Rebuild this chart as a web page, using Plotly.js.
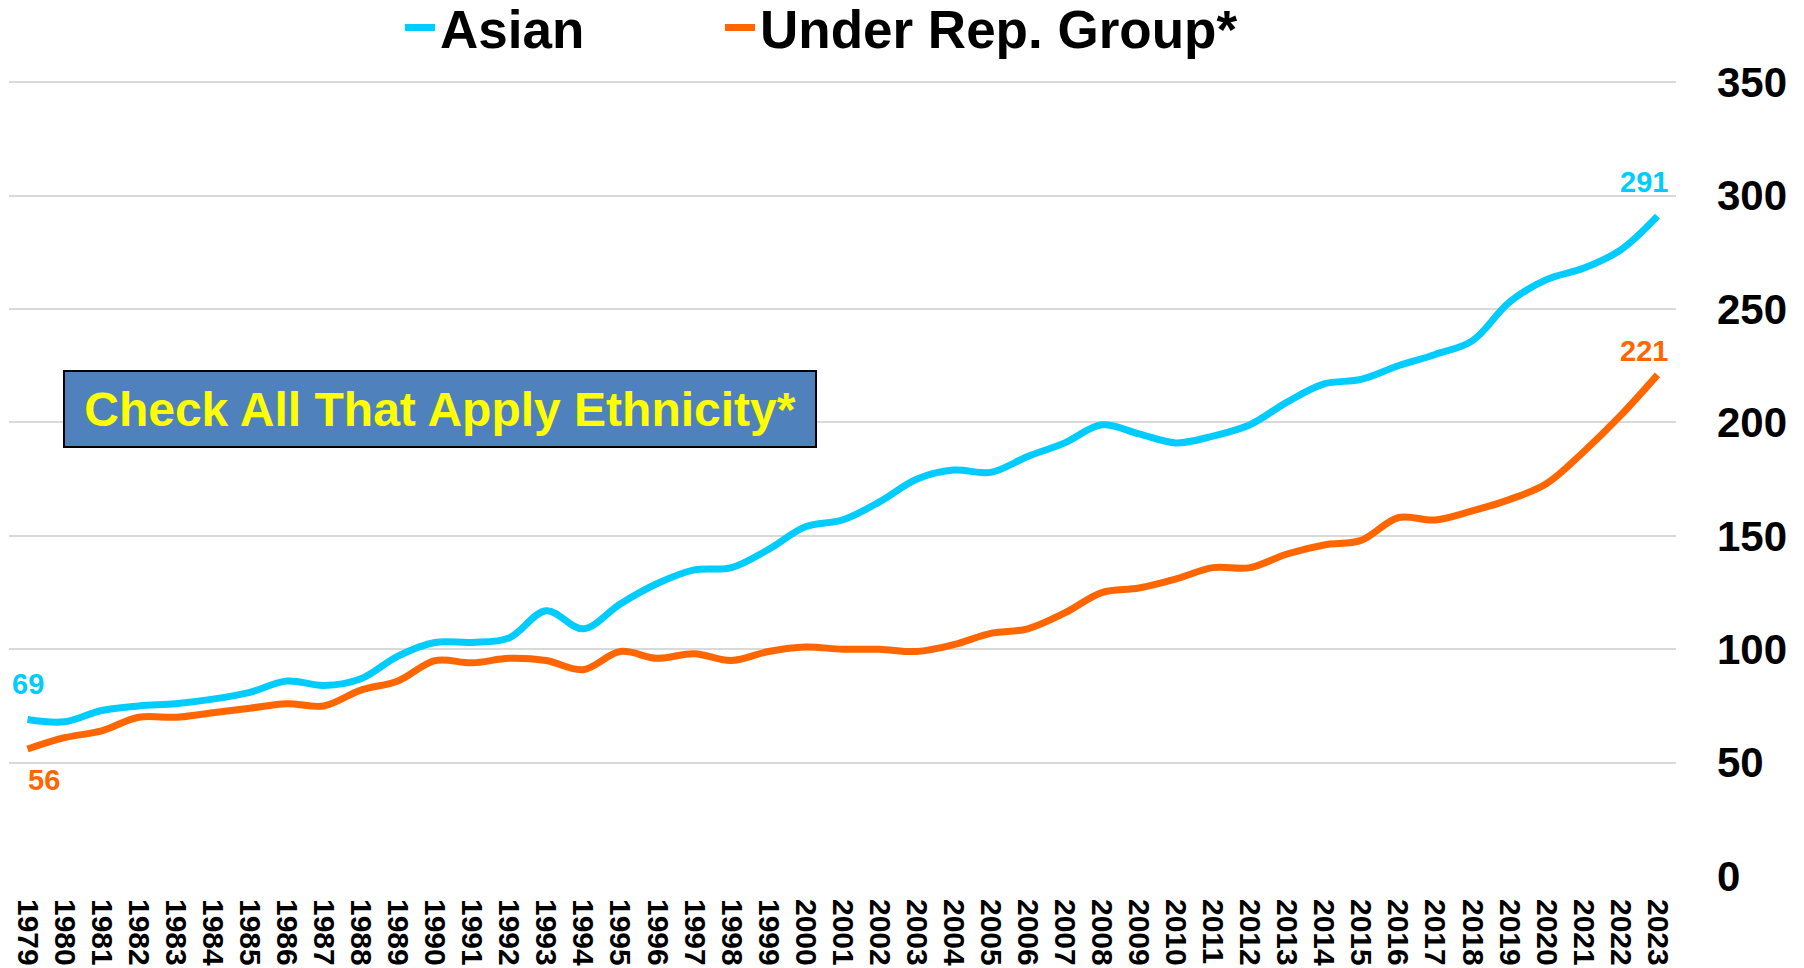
<!DOCTYPE html>
<html>
<head>
<meta charset="utf-8">
<script src="https://cdn.plot.ly/plotly-3.0.1.min.js"></script>
<style>html,body{margin:0;padding:0;background:#fff;}#chart{width:1804px;height:968px;}</style>
</head>
<body>
<div id="chart"></div>
<script>
const years = ["1979","1980","1981","1982","1983","1984","1985","1986","1987","1988","1989","1990","1991","1992","1993","1994","1995","1996","1997","1998","1999","2000","2001","2002","2003","2004","2005","2006","2007","2008","2009","2010","2011","2012","2013","2014","2015","2016","2017","2018","2019","2020","2021","2022","2023"];
const asian = [69,68,73,75,76,78,81,86,84,87,97,103,103,105,117,109,120,129,135,136,144,154,157,165,175,179,178,185,191,199,195,191,194,199,209,217,219,225,230,236,253,263,268,276,291];
const urg = [56,61,64,70,70,72,74,76,75,82,86,95,94,96,95,91,99,96,98,95,99,101,100,100,99,102,107,109,116,125,127,131,136,136,142,146,148,158,157,161,166,173,187,203,221];
const yTicks = [0,50,100,150,200,250,300,350];
const seriesNames = ["Asian","Under Rep. Group*"];
const boxText = "Check All That Apply Ethnicity*";

const FONT = "Liberation Sans, Arial, sans-serif";
const cyan = "#00CCFF", orange = "#FF6600";
const last = years.length - 1;

const traces = [
  {x: years, y: asian, name: seriesNames[0], type: "scatter", mode: "lines", legend: "legend",
   line: {color: cyan, width: 7, shape: "spline", smoothing: 1}},
  {x: years, y: urg, name: seriesNames[1], type: "scatter", mode: "lines", legend: "legend2",
   line: {color: orange, width: 7, shape: "spline", smoothing: 1}}
];

const legFont = {family: FONT, size: 53, color: "#000", weight: "bold"};
const lblFont = (c) => ({family: FONT, size: 29, color: c, weight: "bold"});
const layout = {
  width: 1804, height: 968,
  margin: {l: 9, r: 128, t: 81, b: 92},
  paper_bgcolor: "#fff", plot_bgcolor: "#fff",
  font: {family: FONT, color: "#000"},
  showlegend: true,
  legend: {orientation: "h", xref: "container", yref: "container", x: 400 / 1804, xanchor: "left",
           y: 1 - 27.5 / 968, yanchor: "middle", font: legFont, bgcolor: "rgba(0,0,0,0)"},
  legend2: {orientation: "h", xref: "container", yref: "container", x: 720 / 1804, xanchor: "left",
           y: 1 - 27.5 / 968, yanchor: "middle", font: legFont, bgcolor: "rgba(0,0,0,0)"},
  xaxis: {type: "category", range: [-0.5, years.length - 0.5], tickangle: 90,
          tickfont: {family: FONT, size: 30, color: "#000", weight: "bold"},
          showgrid: false, zeroline: false, showline: false, ticks: "", ticklabelstandoff: 22,
          fixedrange: true},
  yaxis: {side: "right", range: [0, 350.6], tickvals: yTicks, ticktext: yTicks.map(String),
          tickfont: {family: FONT, size: 42, color: "#000", weight: "bold"},
          showgrid: true, gridcolor: "#D9D9D9", gridwidth: 2, zeroline: false, showline: false,
          ticks: "", ticklabelstandoff: 40},
  annotations: [
    {x: 0, y: asian[0], xref: "x", yref: "y", text: String(asian[0]), showarrow: false,
     yshift: 36, xshift: 0, font: lblFont(cyan)},
    {x: 0, y: urg[0], xref: "x", yref: "y", text: String(urg[0]), showarrow: false,
     yshift: -31, xshift: 16, font: lblFont(orange)},
    {x: last, y: asian[last], xref: "x", yref: "y", text: String(asian[last]), showarrow: false,
     yshift: 34, xshift: -13, font: lblFont(cyan)},
    {x: last, y: urg[last], xref: "x", yref: "y", text: String(urg[last]), showarrow: false,
     yshift: 24, xshift: -13, font: lblFont(orange)},
    {xref: "paper", yref: "paper", x: (440 - 9) / 1667, y: (876 - 409) / 795, xanchor: "center", yanchor: "middle",
     text: boxText, showarrow: false, width: 750, height: 74,
     bgcolor: "#4F81BD", bordercolor: "#000", borderwidth: 2, borderpad: 0,
     font: {family: FONT, size: 48, color: "#FFFF00", weight: "bold"}}
  ]
};

Plotly.newPlot("chart", traces, layout, {displayModeBar: false, staticPlot: true});
</script>
</body>
</html>
